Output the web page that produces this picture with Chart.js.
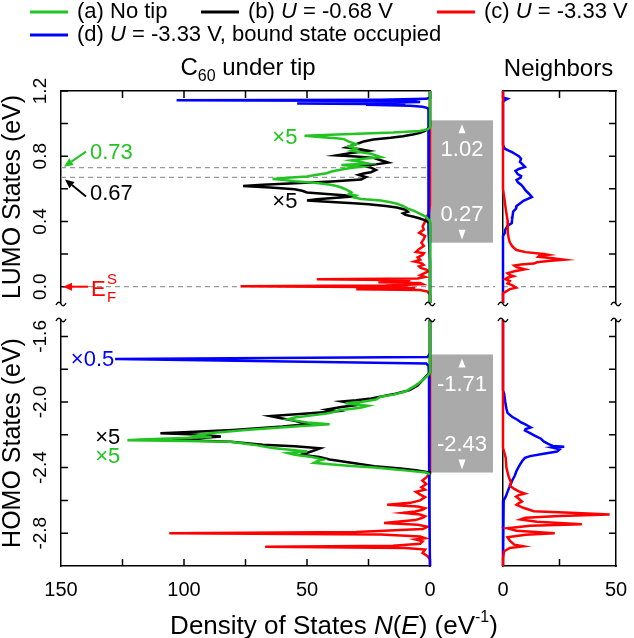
<!DOCTYPE html>
<html>
<head>
<meta charset="utf-8">
<script src="https://cdn.jsdelivr.net/npm/chart.js@4.4.0/dist/chart.umd.min.js"></script>
<style>
html,body{margin:0;padding:0;background:#fff;}
#wrap{position:relative;width:634px;height:638px;overflow:hidden;}
#wrap canvas{position:absolute;left:0;top:0;}
</style>
</head>
<body>
<div id="wrap">
<canvas id="lumoTip" width="634" height="638"></canvas>
<canvas id="lumoNb" width="634" height="638"></canvas>
<canvas id="homoTip" width="634" height="638"></canvas>
<canvas id="homoNb" width="634" height="638"></canvas>
</div>
<script>
// energy (eV) vs density of states (1/eV): [E, N]

// ticks
const tipDosTicks = [25, 50, 75, 100, 125];
const tipDosLabels = [150, 100, 50, 0];
const nbDosTicks = [25];
const nbDosLabels = [0, 50];
const lumoTicks = [0, 0.2, 0.4, 0.6, 0.8, 1.0, 1.2];
const lumoLabels = [0, 0.4, 0.8, 1.2];
const homoTicks = [-2.8, -2.6, -2.4, -2.2, -2.0, -1.8, -1.6];
const homoLabels = [-2.8, -2.4, -2.0, -1.6];

// levels marked on the plot
const onsetLevels = [0.73, 0.67];
const fermiLevel = 0;
const gapLumo = [0.27, 1.02];
const gapHomo = [-2.43, -1.71];

// C60 under tip, LUMO
const tipLumoA = [[1.2,0],[0.975,0],[0.965,1],[0.955,4],[0.945,15],[0.935,35],[0.925,51],[0.918,45],[0.91,38],[0.905,35],[0.89,33],[0.874,30],[0.86,33],[0.845,30],[0.834,32],[0.825,28],[0.815,24],[0.805,22],[0.795,20],[0.785,27],[0.775,32],[0.765,28],[0.755,25],[0.746,36],[0.736,28],[0.726,33],[0.716,37],[0.706,40],[0.696,42],[0.686,46],[0.676,50],[0.668,58],[0.661,64],[0.655,60],[0.647,55],[0.637,47],[0.627,41],[0.617,38],[0.608,36],[0.595,34],[0.578,32],[0.568,33],[0.558,30],[0.548,31],[0.538,28],[0.528,20],[0.518,16],[0.509,13.5],[0.495,11],[0.479,9],[0.465,6.5],[0.45,4.4],[0.43,1.8],[0.41,0.5],[0.4,0],[-0.1,0]];
const tipLumoB = [[1.2,0],[0.985,0],[0.97,0.8],[0.955,2],[0.943,4],[0.933,7],[0.923,11],[0.913,16],[0.903,23],[0.89,27],[0.874,30],[0.864,32],[0.854,34],[0.845,29],[0.834,25],[0.82,32],[0.805,38],[0.798,30],[0.79,23],[0.775,20],[0.761,17],[0.75,22],[0.741,27],[0.73,24],[0.716,22],[0.702,24],[0.694,27],[0.686,29],[0.672,26],[0.657,28],[0.645,40],[0.635,55],[0.625,68],[0.617,76],[0.608,65],[0.598,55],[0.588,52],[0.578,50],[0.568,42],[0.56,35],[0.554,30],[0.545,38],[0.536,46],[0.528,50],[0.52,40],[0.512,31],[0.505,25],[0.495,18],[0.485,13.5],[0.472,10],[0.46,9],[0.45,11],[0.44,10],[0.43,7],[0.42,4.4],[0.41,2.5],[0.4,1.2],[0.39,0],[-0.1,0]];
const tipLumoC = [[1.2,0],[0.5,0],[0.45,0.5],[0.43,1.3],[0.4,2],[0.37,3],[0.35,2.5],[0.33,4.4],[0.31,2],[0.29,2.6],[0.27,3.5],[0.25,2.5],[0.23,4.5],[0.213,5.7],[0.205,2.5],[0.195,3],[0.18,5],[0.165,4],[0.154,6.3],[0.145,3.5],[0.134,2.6],[0.125,4.5],[0.115,3.8],[0.105,1.5],[0.095,0.6],[0.085,2],[0.07,4],[0.06,2],[0.05,5],[0.045,46],[0.04,8],[0.035,10],[0.028,21],[0.022,4],[0.015,3],[0.008,18],[0.002,77],[-0.004,12],[-0.01,6],[-0.015,30],[-0.02,4],[-0.03,1],[-0.05,0],[-0.1,0]];
const tipLumoD = [[1.2,0],[1.16,0],[1.152,1.5],[1.146,20],[1.143,103],[1.139,8],[1.132,4],[1.126,25],[1.123,54],[1.119,10],[1.115,26],[1.11,8],[1.103,3],[1.095,1],[1.08,0.5],[0.95,0.5],[0.85,0.6],[0.75,0.7],[0.65,0.8],[0.55,0.7],[0.45,0.6],[0.35,0.5],[0.25,0.3],[0.15,0],[-0.1,0]];

// neighbors, LUMO
const nbLumoC = [[1.2,0],[0.6,0],[0.55,0.5],[0.5,1],[0.45,1.5],[0.408,2],[0.37,2.2],[0.33,2],[0.3,2.5],[0.272,3],[0.25,4],[0.235,5],[0.225,6],[0.212,10],[0.2,18],[0.195,20],[0.188,16],[0.183,15.6],[0.175,22],[0.166,27],[0.158,20],[0.15,15],[0.142,13.6],[0.136,8],[0.13,5],[0.12,6],[0.107,9.7],[0.095,5],[0.083,2],[0.072,3],[0.065,4.6],[0.055,2],[0.047,1],[0.035,3],[0.02,2],[0.01,4],[-0.006,5.8],[-0.015,3],[-0.024,2],[-0.04,0],[-0.1,0]];
const nbLumoD = [[1.2,0],[1.16,0],[1.152,2],[1.145,1],[1.135,0],[0.87,0],[0.846,0.8],[0.835,2.5],[0.825,4],[0.817,5],[0.8,7],[0.785,8],[0.765,7.5],[0.745,9],[0.734,9.7],[0.722,7],[0.71,5.5],[0.704,5.8],[0.69,6.5],[0.678,8],[0.669,7.8],[0.655,6],[0.64,6.6],[0.625,8],[0.61,9],[0.59,10],[0.57,11.5],[0.55,12.8],[0.538,11],[0.527,9],[0.51,7.5],[0.495,6],[0.479,5.8],[0.46,4.5],[0.43,4.2],[0.41,4],[0.39,3.9],[0.373,2],[0.35,1],[0.33,0.8],[0.31,0],[-0.1,0]];

// C60 under tip, HOMO
const tipHomoA = [[-1.5,0],[-1.82,0],[-1.84,1],[-1.869,3.1],[-1.9,6],[-1.938,10.2],[-1.955,15],[-1.968,20],[-1.985,22],[-2.0,28],[-2.007,34.3],[-2.015,30],[-2.023,25.2],[-2.03,27],[-2.037,29.1],[-2.05,36.9],[-2.062,39.5],[-2.07,42],[-2.08,47],[-2.095,55],[-2.105,57.7],[-2.115,54],[-2.125,49.9],[-2.135,40.8],[-2.15,55],[-2.17,75],[-2.19,90],[-2.205,95],[-2.214,88.8],[-2.22,100],[-2.228,118],[-2.233,123],[-2.238,100],[-2.243,81],[-2.26,72],[-2.28,64],[-2.302,49.9],[-2.312,57.7],[-2.322,55],[-2.335,48],[-2.351,43.4],[-2.362,46],[-2.371,47.2],[-2.381,39.5],[-2.39,32],[-2.4,22.6],[-2.41,15],[-2.42,8.3],[-2.43,1.8],[-2.44,0]];
const tipHomoB = [[-1.5,0],[-1.82,0],[-1.85,2],[-1.9,5],[-1.928,8.3],[-1.95,14],[-1.978,23.9],[-1.99,30],[-1.997,35.6],[-2.007,32],[-2.017,29.1],[-2.03,36],[-2.046,42],[-2.056,38.2],[-2.07,50],[-2.086,64.8],[-2.1,60],[-2.115,55],[-2.135,49.9],[-2.15,60],[-2.17,80],[-2.185,100],[-2.19,109.6],[-2.198,95],[-2.21,85],[-2.225,98],[-2.232,105],[-2.238,90],[-2.243,81],[-2.26,68],[-2.27,55],[-2.282,44.7],[-2.3,48],[-2.322,52.5],[-2.335,45],[-2.351,40.8],[-2.37,32],[-2.391,22.6],[-2.405,12],[-2.416,5.7],[-2.43,0],[-2.44,0]];
const tipHomoC = [[-1.5,0],[-2.42,0],[-2.44,0.5],[-2.46,1.5],[-2.479,3.1],[-2.5,1.5],[-2.52,3.5],[-2.535,2],[-2.548,5.7],[-2.565,4],[-2.58,2],[-2.6,4],[-2.615,8],[-2.627,17.4],[-2.637,5],[-2.648,2],[-2.657,3.1],[-2.668,6],[-2.676,10.9],[-2.686,4],[-2.697,2],[-2.706,3],[-2.72,6],[-2.738,18.7],[-2.748,5],[-2.76,1],[-2.775,3],[-2.792,30],[-2.8,106],[-2.808,20],[-2.82,4],[-2.83,2],[-2.838,6],[-2.85,3],[-2.865,4],[-2.876,15],[-2.883,67],[-2.89,10],[-2.9,2],[-2.92,3],[-2.94,1],[-2.96,0],[-3.0,0]];
const tipHomoD = [[-1.5,0],[-1.7,0],[-1.715,0.5],[-1.725,1],[-1.738,128],[-1.765,1.5],[-1.78,0.6],[-1.85,0.4],[-2.0,0.4],[-2.2,0.4],[-2.4,0.3],[-2.6,0.2],[-3.0,0]];

// neighbors, HOMO
const nbHomoC = [[-1.5,0],[-2.28,0],[-2.34,1.2],[-2.4,1.5],[-2.46,2.6],[-2.49,3.5],[-2.51,3],[-2.53,5],[-2.545,7],[-2.558,9.7],[-2.568,7],[-2.577,5.8],[-2.59,7],[-2.607,8.4],[-2.617,7],[-2.627,6],[-2.645,9],[-2.666,13.6],[-2.676,30],[-2.686,47.2],[-2.695,25],[-2.706,10],[-2.716,7.8],[-2.73,15],[-2.745,34.9],[-2.755,12],[-2.77,1.9],[-2.785,6],[-2.8,22.9],[-2.81,10],[-2.825,2],[-2.845,3],[-2.87,5],[-2.88,9],[-2.89,3],[-2.91,0.5],[-2.95,0],[-3.0,0]];
const nbHomoD = [[-1.5,0],[-1.93,0],[-1.948,0.5],[-2.0,1],[-2.04,1.5],[-2.066,2],[-2.09,4],[-2.11,6.5],[-2.125,8],[-2.135,9.7],[-2.145,11],[-2.155,12.3],[-2.165,10],[-2.174,9.7],[-2.19,12],[-2.205,14],[-2.224,16.8],[-2.24,18],[-2.255,20],[-2.268,22],[-2.273,27.1],[-2.278,22],[-2.282,23.3],[-2.29,25],[-2.302,23.9],[-2.315,18],[-2.33,12],[-2.341,9.7],[-2.36,8.5],[-2.391,7.1],[-2.42,6],[-2.45,5.2],[-2.48,4],[-2.509,3.2],[-2.53,2.5],[-2.548,2],[-2.577,1.2],[-2.6,0.3],[-3.0,0]];

const seriesColors = { a: '#22c422', b: '#000000', c: '#ff0000', d: '#0000ff' };
const seriesLabels = {
  a: [['(a) No tip', false]],
  b: [['(b) ', false], ['U', true], [' = -0.68 V', false]],
  c: [['(c) ', false], ['U', true], [' = -3.33 V', false]],
  d: [['(d) ', false], ['U', true], [' = -3.33 V, bound state occupied', false]]
};

// scale factors written next to curves, placed in data coords [N, E]
const curveNotes = {
  lumoTip: [['×5', 'a', 59, 0.915, 'center'], ['×5', 'b', 59, 0.52, 'center']],
  homoTip: [['×0.5', 'd', 146, -1.743, 'left'], ['×5', 'b', 131, -2.221, 'center'], ['×5', 'a', 131, -2.334, 'center']]
};

// ---- layout ----
const W = 634, H = 638;
const tipCols = [53, 438], nbCols = [495, 624];
const lumoRows = [83, 303], homoRows = [320, 574];
const TICK = 7;
const legendPos = { a: [30, 12], b: [201, 12], c: [437, 12], d: [30, 35] };

function F(size, italic) {
  return (italic ? 'italic ' : '') + size + 'px "Liberation Sans", Arial, sans-serif';
}

// draw a run of text pieces: [text, size, italic, dy]
function runs(ctx, parts, x, y, align) {
  let total = 0;
  parts.forEach(p => { ctx.font = F(p[1], p[2]); total += ctx.measureText(p[0]).width; });
  let cx = align === 'center' ? x - total / 2 : x;
  ctx.textAlign = 'left';
  parts.forEach(p => {
    ctx.font = F(p[1], p[2]);
    ctx.fillText(p[0], cx, y + (p[3] || 0));
    cx += ctx.measureText(p[0]).width;
  });
}

function arrow(ctx, x0, y0, x1, y1, color) {
  const ang = Math.atan2(y1 - y0, x1 - x0), L = 9, hw = 4;
  const c = Math.cos(ang), s = Math.sin(ang);
  ctx.strokeStyle = color; ctx.fillStyle = color; ctx.lineWidth = 2;
  ctx.beginPath(); ctx.moveTo(x0, y0); ctx.lineTo(x1 - L * c, y1 - L * s); ctx.stroke();
  ctx.beginPath(); ctx.moveTo(x1, y1);
  ctx.lineTo(x1 - L * c + hw * s, y1 - L * s - hw * c);
  ctx.lineTo(x1 - L * c - hw * s, y1 - L * s + hw * c);
  ctx.closePath(); ctx.fill();
}

function dashed(ctx, x0, x1, y) {
  ctx.save();
  ctx.strokeStyle = '#9a9a9a'; ctx.lineWidth = 1.2; ctx.setLineDash([5, 4]);
  ctx.beginPath(); ctx.moveTo(x0, y); ctx.lineTo(x1, y); ctx.stroke();
  ctx.restore();
}

function gapBox(chart, range) {
  const ctx = chart.ctx, a = chart.chartArea, ys = chart.scales.y;
  const x0 = a.right + 1, x1 = nbCols[0] - 2;
  const yTop = ys.getPixelForValue(range[1]), yBot = ys.getPixelForValue(range[0]);
  const cx = (x0 + x1) / 2;
  ctx.fillStyle = '#aaaaaa';
  ctx.fillRect(x0, yTop, x1 - x0, yBot - yTop);
  ctx.fillStyle = '#ffffff';
  ctx.beginPath(); ctx.moveTo(cx, yTop + 4); ctx.lineTo(cx + 3.5, yTop + 13); ctx.lineTo(cx - 3.5, yTop + 13); ctx.closePath(); ctx.fill();
  ctx.beginPath(); ctx.moveTo(cx, yBot - 3); ctx.lineTo(cx + 3.5, yBot - 13); ctx.lineTo(cx - 3.5, yBot - 13); ctx.closePath(); ctx.fill();
  ctx.font = F(22); ctx.textAlign = 'center'; ctx.textBaseline = 'middle';
  ctx.fillText(range[1].toFixed(2), cx, yTop + 30);
  ctx.fillText(range[0].toFixed(2), cx, yBot - 28);
}

function tilde(ctx, x, y) {
  ctx.beginPath();
  ctx.moveTo(x - 5, y + 1);
  ctx.bezierCurveTo(x - 3, y - 3, x - 1, y - 2, x, y);
  ctx.bezierCurveTo(x + 1, y + 2, x + 3, y + 3, x + 5, y - 1);
  ctx.stroke();
}

function notes(chart) {
  const list = curveNotes[chart.canvas.id];
  if (!list) return;
  const ctx = chart.ctx, xs = chart.scales.x, ys = chart.scales.y;
  ctx.font = F(22); ctx.textBaseline = 'middle';
  list.forEach(n => {
    ctx.fillStyle = seriesColors[n[1]];
    ctx.textAlign = n[4];
    ctx.fillText(n[0], xs.getPixelForValue(n[2]), ys.getPixelForValue(n[3]));
  });
}

function lumoTipUnder(chart) {
  const ctx = chart.ctx, a = chart.chartArea, ys = chart.scales.y;
  onsetLevels.forEach(v => dashed(ctx, a.left, a.right, ys.getPixelForValue(v)));
  dashed(ctx, a.left, nbCols[0], ys.getPixelForValue(fermiLevel));
  gapBox(chart, gapLumo);
}

function lumoTipOver(chart) {
  const ctx = chart.ctx, a = chart.chartArea, ys = chart.scales.y;
  const yA = ys.getPixelForValue(onsetLevels[0]), yB = ys.getPixelForValue(onsetLevels[1]);
  const yF = ys.getPixelForValue(fermiLevel);
  arrow(ctx, a.left + 25, yA - 16, a.left + 3, yA - 1, seriesColors.a);
  arrow(ctx, a.left + 25, yB + 19, a.left + 4, yB + 2, seriesColors.b);
  arrow(ctx, a.left + 27, yF, a.left + 2, yF, seriesColors.c);
  ctx.textBaseline = 'middle';
  ctx.fillStyle = seriesColors.a; runs(ctx, [[onsetLevels[0].toFixed(2), 22]], a.left + 29, yA - 15, 'left');
  ctx.fillStyle = seriesColors.b; runs(ctx, [[onsetLevels[1].toFixed(2), 22]], a.left + 29, yB + 17, 'left');
  ctx.fillStyle = seriesColors.c;
  ctx.font = F(22); ctx.textAlign = 'left';
  ctx.fillText('E', a.left + 30, yF + 3);
  ctx.font = F(15);
  ctx.fillText('S', a.left + 46, yF - 7);
  ctx.fillText('F', a.left + 46, yF + 11);

  // legend
  ctx.textBaseline = 'middle';
  Object.keys(legendPos).forEach(k => {
    const [x, y] = legendPos[k];
    ctx.strokeStyle = seriesColors[k]; ctx.lineWidth = 3;
    ctx.beginPath(); ctx.moveTo(x, y); ctx.lineTo(x + 38, y); ctx.stroke();
    ctx.fillStyle = '#000';
    runs(ctx, seriesLabels[k].map(p => [p[0], 22, p[1]]), x + 47, y, 'left');
  });

  // panel titles
  ctx.textBaseline = 'alphabetic'; ctx.fillStyle = '#000';
  runs(ctx, [['C', 24], ['60', 16, false, 6], [' under tip', 24]], 248, 75, 'center');
  runs(ctx, [['Neighbors', 24]], (nbCols[0] + nbCols[1]) / 2 - 1, 76, 'center');

  // axis title
  runs(ctx, [['Density of States ', 26], ['N', 26, true], ['(', 26], ['E', 26, true], [') (eV', 26], ['-1', 16, false, -12], [')', 26]], 334, 634, 'center');
}

function sideTitle(chart, text) {
  const ctx = chart.ctx, a = chart.chartArea;
  ctx.save();
  ctx.translate(13, (a.top + a.bottom) / 2);
  ctx.rotate(-Math.PI / 2);
  ctx.fillStyle = '#000'; ctx.font = F(25); ctx.textAlign = 'center'; ctx.textBaseline = 'middle';
  ctx.fillText(text, 0, 0);
  ctx.restore();
}

const decor = {
  lumoTip: { xTicks: tipDosTicks, xSide: 'top', yTicks: lumoTicks, ySide: 'left', yLabels: lumoLabels, brk: 'bottom', title: 'LUMO States (eV)', under: lumoTipUnder, over: lumoTipOver },
  lumoNb: { xTicks: nbDosTicks, xSide: 'top', yTicks: lumoTicks, ySide: 'right', brk: 'bottom',
    under: c => dashed(c.ctx, c.chartArea.left, c.chartArea.right, c.scales.y.getPixelForValue(fermiLevel)) },
  homoTip: { xTicks: tipDosTicks, xSide: 'bottom', xLabels: tipDosLabels, yTicks: homoTicks, ySide: 'left', yLabels: homoLabels, brk: 'top', title: 'HOMO States (eV)', under: c => gapBox(c, gapHomo) },
  homoNb: { xTicks: nbDosTicks, xSide: 'bottom', xLabels: nbDosLabels, yTicks: homoTicks, ySide: 'right', brk: 'top' }
};

const decorPlugin = {
  id: 'decor',
  beforeDatasetsDraw(chart) {
    const d = decor[chart.canvas.id];
    const ctx = chart.ctx, a = chart.chartArea, xs = chart.scales.x, ys = chart.scales.y;
    ctx.save();
    if (d.under) d.under(chart);
    ctx.strokeStyle = '#000'; ctx.lineWidth = 1.5; ctx.setLineDash([]);
    ctx.beginPath();
    d.xTicks.forEach(v => {
      const px = xs.getPixelForValue(v);
      if (d.xSide === 'top') { ctx.moveTo(px, a.top); ctx.lineTo(px, a.top + TICK); }
      else { ctx.moveTo(px, a.bottom); ctx.lineTo(px, a.bottom - TICK); }
    });
    d.yTicks.forEach(v => {
      const py = ys.getPixelForValue(v);
      if (d.ySide === 'left') { ctx.moveTo(a.left, py); ctx.lineTo(a.left + TICK, py); }
      else { ctx.moveTo(a.right, py); ctx.lineTo(a.right - TICK, py); }
    });
    ctx.stroke();
    ctx.restore();
  },
  afterDraw(chart) {
    const d = decor[chart.canvas.id];
    const ctx = chart.ctx, a = chart.chartArea, xs = chart.scales.x, ys = chart.scales.y;
    ctx.save();
    ctx.fillStyle = '#000';
    if (d.xLabels) {
      ctx.font = F(20); ctx.textAlign = 'center'; ctx.textBaseline = 'middle';
      d.xLabels.forEach(v => ctx.fillText(String(v), xs.getPixelForValue(v), 590));
    }
    if (d.yLabels) {
      ctx.font = F(19); ctx.textAlign = 'center'; ctx.textBaseline = 'middle';
      d.yLabels.forEach(v => {
        ctx.save();
        ctx.translate(41, ys.getPixelForValue(v));
        ctx.rotate(-Math.PI / 2);
        ctx.fillText(v.toFixed(1), 0, 0);
        ctx.restore();
      });
    }
    if (d.title) sideTitle(chart, d.title);
    // axis break marks
    ctx.strokeStyle = '#000'; ctx.lineWidth = 1.4;
    const yb = d.brk === 'bottom' ? a.bottom + 1 : a.top;
    tilde(ctx, a.left, yb);
    tilde(ctx, a.right, yb);
    notes(chart);
    if (d.over) d.over(chart);
    ctx.restore();
  }
};

function ds(pairs, key) {
  return {
    data: pairs.map(p => ({ x: p[1], y: p[0] })),
    showLine: true, borderColor: seriesColors[key], borderWidth: 2.5,
    pointRadius: 0, fill: false, clip: { left: 3, right: 3, top: 0, bottom: 0 }
  };
}

function axis(opts) {
  return Object.assign({
    type: 'linear', display: true,
    grid: { display: false }, ticks: { display: false },
    border: { display: true, color: '#000', width: 1.5 }
  }, opts);
}

function makePanel(id, cols, rows, xMax, yRange, reverse, xSide, datasets) {
  return new Chart(document.getElementById(id), {
    type: 'scatter',
    data: { datasets },
    options: {
      responsive: false, animation: false, events: [],
      layout: { padding: { left: cols[0], right: W - cols[1], top: rows[0], bottom: H - rows[1] } },
      plugins: { legend: { display: false }, tooltip: { enabled: false } },
      scales: {
        x: axis({ position: xSide, min: 0, max: xMax, reverse }),
        y: axis({ position: 'left', min: yRange[0], max: yRange[1] }),
        y2: axis({ axis: 'y', position: 'right', min: yRange[0], max: yRange[1] })
      }
    },
    plugins: [decorPlugin]
  });
}

makePanel('lumoTip', tipCols, lumoRows, 150, [-0.1, 1.2], true, 'top',
  [ds(tipLumoA, 'a'), ds(tipLumoB, 'b'), ds(tipLumoD, 'd'), ds(tipLumoC, 'c')]);
makePanel('lumoNb', nbCols, lumoRows, 50, [-0.1, 1.2], false, 'top',
  [ds(nbLumoC, 'c'), ds(nbLumoD, 'd')]);
makePanel('homoTip', tipCols, homoRows, 150, [-3.0, -1.5], true, 'bottom',
  [ds(tipHomoA, 'a'), ds(tipHomoB, 'b'), ds(tipHomoD, 'd'), ds(tipHomoC, 'c')]);
makePanel('homoNb', nbCols, homoRows, 50, [-3.0, -1.5], false, 'bottom',
  [ds(nbHomoC, 'c'), ds(nbHomoD, 'd')]);
</script>
</body>
</html>
